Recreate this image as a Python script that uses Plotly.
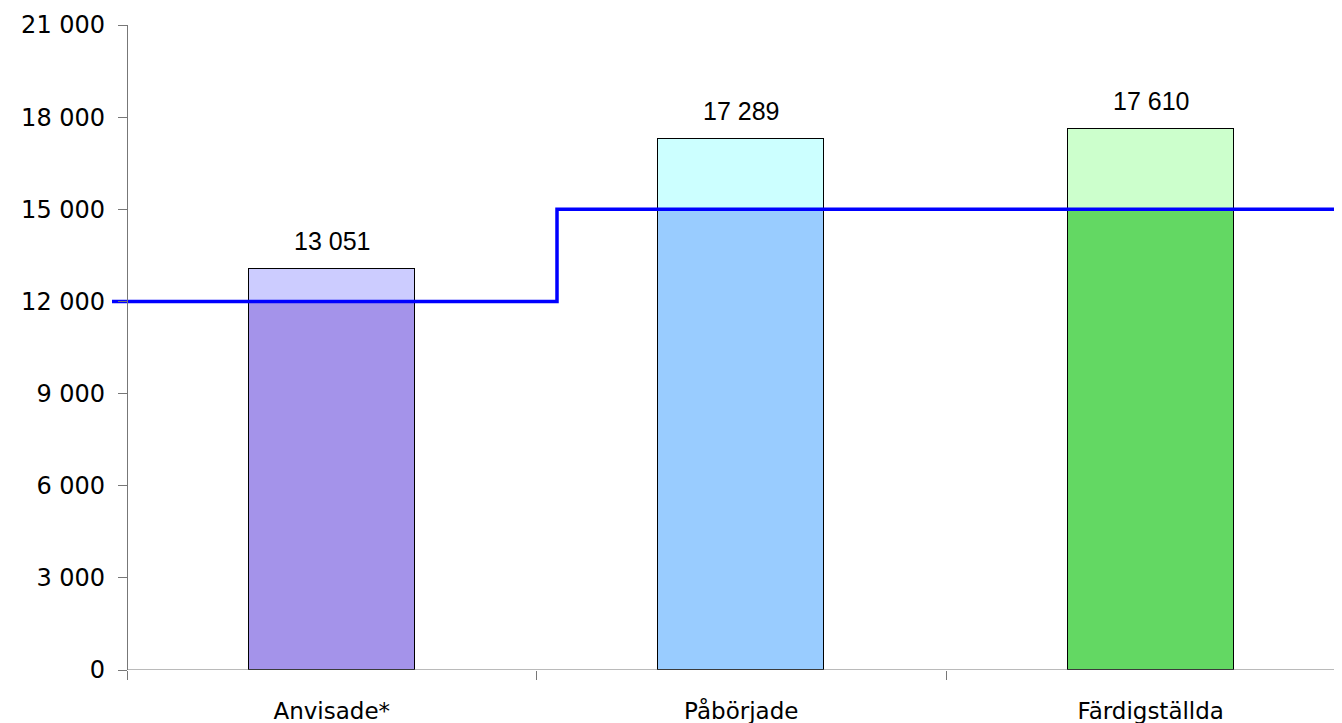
import plotly.graph_objects as go

categories = ["Anvisade*", "Påbörjade", "Färdigställda"]
values = [13051, 17289, 17610]
targets = [12000, 15000, 15000]
lower_colors = ["#A493EA", "#99CCFF", "#63D863"]
upper_colors = ["#CCCCFF", "#CCFFFF", "#CCFFCC"]

# step line (target level) drawn on an overlay axis
step_x = [0, 1, 3]
step_y = [12000, 15000, 15000]

y_ticks = [0, 3000, 6000, 9000, 12000, 15000, 18000, 21000]

lower = [min(v, t) for v, t in zip(values, targets)]
upper = [v - l for v, l in zip(values, lower)]

OFF = 8                # page body margin
W, H = 1342 - OFF, 723 - OFF
ML, MR, MT, MB = 112 - OFF, 0, 25 - OFF, 53
plot_w = W - ML - MR
axis_px = 127 - OFF    # y-axis position in pixels
step_px = 557 - OFF
cat_px = 409.5         # pixel width of a category
x_left = -0.5 - (axis_px - ML) / cat_px
x_right = x_left + plot_w / cat_px

fig = go.Figure()
fig.add_trace(go.Bar(x=categories, y=lower, marker=dict(color=lower_colors, line=dict(color="black", width=1.5)),
                     width=0.405, hoverinfo="skip", showlegend=False))
fig.add_trace(go.Bar(x=categories, y=upper, marker=dict(color=upper_colors, line=dict(color="black", width=1.5)),
                     width=0.405, hoverinfo="skip", showlegend=False))
fig.add_trace(go.Scatter(x=step_x, y=step_y, mode="lines", line=dict(color="#0000FF", width=3.5, shape="hv"),
                         xaxis="x2", yaxis="y", showlegend=False, hoverinfo="skip"))

for c, v in zip(categories, values):
    fig.add_annotation(x=c, y=v, text=f"{v:,}".replace(",", " "), showarrow=False, yanchor="bottom",
                       yshift=12, font=dict(family="Liberation Sans, Arial", size=25, color="black"))

# baseline along y=0 starting at the y-axis
fig.add_shape(type="line", xref="x", yref="y", x0=-0.5, x1=x_right, y0=0, y1=0,
              line=dict(color="#777777", width=1.2))

fig.update_layout(
    width=W, height=H,
    margin=dict(l=ML, r=MR, t=MT, b=MB, pad=0),
    plot_bgcolor="white", paper_bgcolor="white",
    barmode="stack", bargap=0,
    separators=", ",
    xaxis=dict(type="category", range=[x_left, x_right], showline=False, showgrid=False, zeroline=False,
               ticks="outside", tickson="boundaries", ticklen=9, tickcolor="#777777", tickwidth=1.2,
               tickfont=dict(family="DejaVu Sans", size=23, color="black"), ticklabelstandoff=25),
    xaxis2=dict(overlaying="x", range=[0, plot_w / (step_px - ML)], visible=False),
    yaxis=dict(range=[0, 21000], tickvals=y_ticks, tickformat=",d", anchor="free",
               position=(axis_px - ML) / plot_w,
               showline=True, linecolor="#777777", linewidth=1.2, showgrid=False, zeroline=False,
               ticks="outside", ticklen=9, tickcolor="#777777", tickwidth=1.2,
               tickfont=dict(family="DejaVu Sans", size=24, color="black"), ticklabelstandoff=8),
)

fig.write_html("out.html")
